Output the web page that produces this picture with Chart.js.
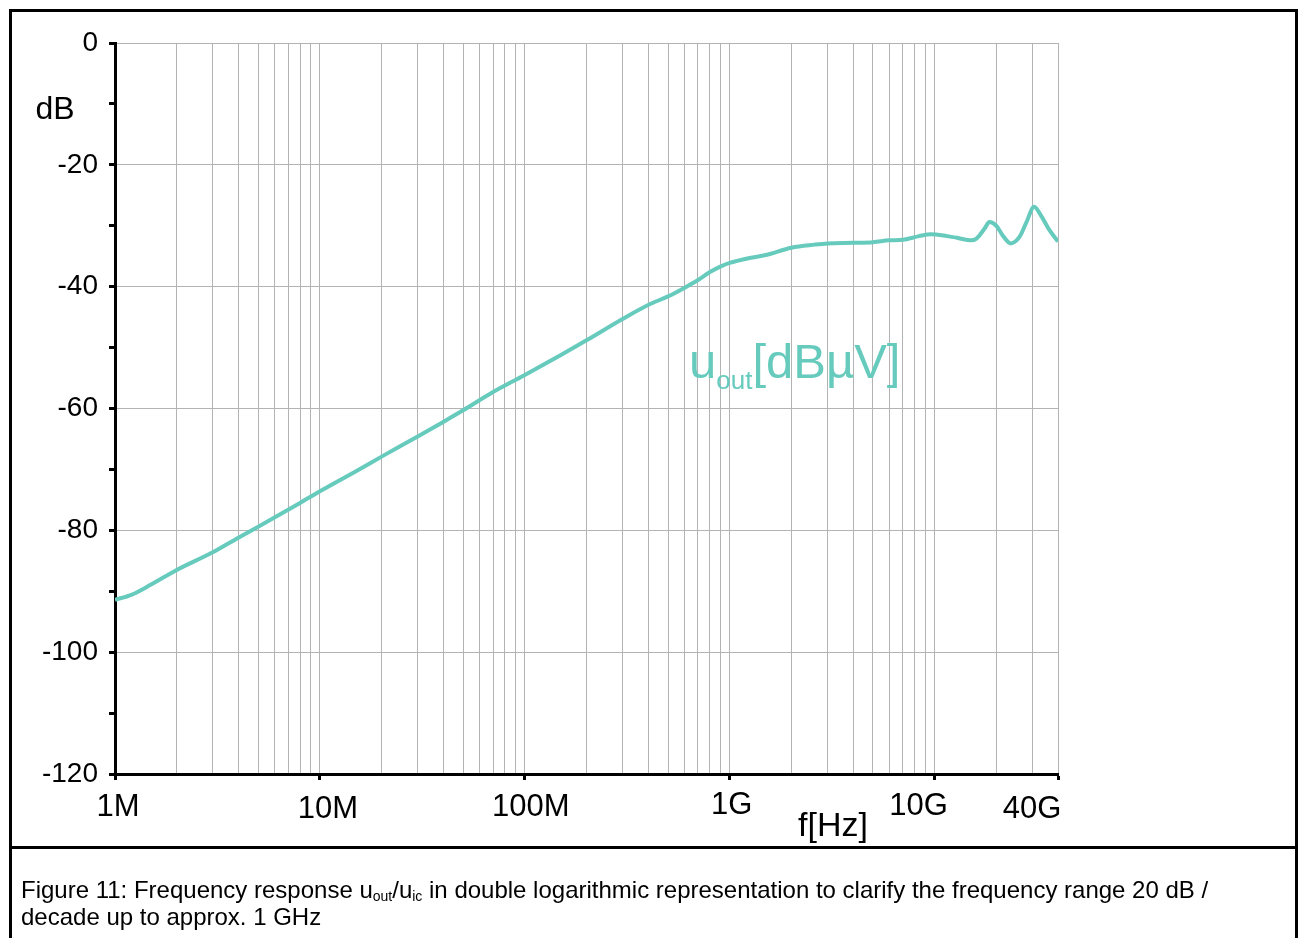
<!DOCTYPE html>
<html>
<head>
<meta charset="utf-8">
<script src="https://cdn.jsdelivr.net/npm/chart.js@4.4.0/dist/chart.umd.min.js"></script>
<style>
  html, body { margin: 0; padding: 0; background: #fff; }
  body { width: 1300px; height: 938px; position: relative; overflow: hidden; font-family: "Liberation Sans", Arial, sans-serif; }
  #wrap { position: absolute; left: 0; top: 0; width: 1300px; height: 938px; }
  #frame { position: absolute; left: 9px; top: 9px; width: 1289px; height: 940px; border: 3px solid #000; border-bottom: none; box-sizing: border-box; }
  #sep { position: absolute; left: 9px; top: 846px; width: 1289px; height: 3px; background: #000; }
  #caption { position: absolute; left: 21px; top: 876px; width: 1270px; font-size: 24px; line-height: 27px; color: #000; white-space: nowrap; }
  #caption sub { font-size: 14px; vertical-align: -3px; line-height: 0; }
</style>
</head>
<body>
<div id="wrap"><canvas id="c" width="1300" height="938"></canvas></div>
<div id="frame"></div>
<div id="sep"></div>
<div id="caption">Figure 11: Frequency response u<sub>out</sub>/u<sub>ic</sub> in double logarithmic representation to clarify the frequency range 20 dB /<br>decade up to approx. 1 GHz</div>
<script>
// ---- data ----
const FREQ_HZ = [1e6, 1.2e6, 1.5e6, 2e6, 3e6, 4e6, 5e6, 6e6, 8e6, 1e7, 1.5e7, 2e7, 3e7, 4e7, 5e7, 7e7,
  1e8, 1.5e8, 2e8, 3e8, 4e8, 5e8, 6e8, 7e8, 8e8, 9e8, 1e9, 1.25e9, 1.5e9, 2e9, 2.6e9, 3e9, 4e9, 5e9,
  6e9, 7e9, 8.4e9, 9.6e9, 1.15e10, 1.3e10, 1.5e10, 1.6e10, 1.75e10, 1.85e10, 2e10, 2.15e10, 2.35e10,
  2.6e10, 2.8e10, 3.06e10, 3.3e10, 3.6e10, 4e10];
const U_OUT_DB = [-91.4, -90.6, -88.9, -86.5, -83.6, -81.2, -79.4, -77.9, -75.5, -73.6, -70.3, -67.9, -64.6, -62.2, -60.3, -57.3,
  -54.5, -51.2, -48.8, -45.3, -43.0, -41.6, -40.2, -38.9, -37.6, -36.7, -36.1, -35.3, -34.8, -33.6, -33.1, -32.9, -32.8, -32.7,
  -32.4, -32.3, -31.7, -31.4, -31.7, -32.0, -32.4, -32.1, -30.5, -29.4, -30.0, -31.6, -32.9,
  -31.8, -29.5, -26.9, -28.3, -30.5, -32.6];
const X_GRID_HZ = [1e6,2e6,3e6,4e6,5e6,6e6,7e6,8e6,9e6,
  1e7,2e7,3e7,4e7,5e7,6e7,7e7,8e7,9e7,
  1e8,2e8,3e8,4e8,5e8,6e8,7e8,8e8,9e8,
  1e9,2e9,3e9,4e9,5e9,6e9,7e9,8e9,9e9,
  1e10,2e10,3e10,4e10];
const X_TICK_HZ = [1e6, 1e7, 1e8, 1e9, 1e10, 4e10];
const X_TICK_LABELS = ['1M', '10M', '100M', '1G', '10G', '40G'];
const Y_MIN = -120, Y_MAX = 0, Y_STEP = 10;
const X_TITLE = 'f[Hz]';
const Y_TITLE = 'dB';
const SERIES_NAME = ['u', 'out', '[dBµV]'];

// ---- style ----
const FONT = '"Liberation Sans", Arial, sans-serif';
const TEAL = '#66cbbd';
const GRID = '#b3b3b3';
const XLABEL_DX = [3, 8, 6, 2, -16, -26];
const XLABEL_DY = [0, 2, 0, -2, -1, 2];

const labelPlugin = {
  id: 'labels',
  afterDraw(chart) {
    const ctx = chart.ctx;
    const xs = chart.scales.x;
    const ys = chart.scales.y;
    ctx.save();
    ctx.fillStyle = '#000';
    ctx.textAlign = 'center';
    ctx.textBaseline = 'middle';
    ctx.font = '31px ' + FONT;
    X_TICK_HZ.forEach((v, i) => {
      ctx.fillText(X_TICK_LABELS[i], xs.getPixelForValue(v) + XLABEL_DX[i], ys.bottom + 33 + XLABEL_DY[i]);
    });
    ctx.font = '34px ' + FONT;
    ctx.fillText(X_TITLE, 833, ys.bottom + 53);
    ctx.font = '32px ' + FONT;
    ctx.fillText(Y_TITLE, 55, ys.getPixelForValue(-10) + 6);
    // series label
    ctx.fillStyle = TEAL;
    ctx.textAlign = 'left';
    ctx.textBaseline = 'alphabetic';
    ctx.font = '49px ' + FONT;
    let x = 689, base = 378;
    ctx.fillText(SERIES_NAME[0], x, base);
    x += ctx.measureText(SERIES_NAME[0]).width;
    ctx.font = '26px ' + FONT;
    ctx.fillText(SERIES_NAME[1], x, base + 11);
    x += ctx.measureText(SERIES_NAME[1]).width;
    ctx.font = '49px ' + FONT;
    ctx.fillText(SERIES_NAME[2], x, base);
    ctx.restore();
  }
};

new Chart(document.getElementById('c'), {
  type: 'line',
  data: {
    datasets: [{
      data: FREQ_HZ.map((f, i) => ({ x: f, y: U_OUT_DB[i] })),
      borderColor: TEAL,
      borderWidth: 4,
      pointRadius: 0,
      cubicInterpolationMode: 'monotone',
      fill: false
    }]
  },
  options: {
    responsive: false,
    animation: false,
    devicePixelRatio: 1,
    layout: { padding: { left: 0, top: 43, right: 242, bottom: 0 } },
    plugins: { legend: { display: false }, tooltip: { enabled: false } },
    scales: {
      x: {
        type: 'logarithmic',
        min: 1e6, max: 4e10,
        afterBuildTicks: s => { s.ticks = X_GRID_HZ.map(v => ({ value: v })); },
        afterFit: s => { s.height = 938 - 774; },
        ticks: { display: false },
        grid: {
          color: GRID, lineWidth: 1,
          tickLength: 6, tickWidth: 3,
          tickColor: c => (X_TICK_HZ.includes(c.tick && c.tick.value) ? '#000' : 'rgba(0,0,0,0)')
        },
        border: { color: '#000', width: 3 }
      },
      y: {
        type: 'linear',
        min: Y_MIN, max: Y_MAX,
        afterFit: s => { s.width = 115; },
        ticks: {
          stepSize: Y_STEP,
          color: '#000',
          font: { family: FONT, size: 28 },
          padding: 11,
          callback: v => (v % 20 === 0 ? String(v) : '')
        },
        grid: {
          color: c => (c.tick && c.tick.value % 20 === 0 ? GRID : 'rgba(0,0,0,0)'),
          lineWidth: 1,
          tickLength: 6, tickWidth: 3,
          tickColor: '#000'
        },
        border: { color: '#000', width: 3 }
      }
    }
  },
  plugins: [labelPlugin]
});
</script>
</body>
</html>
